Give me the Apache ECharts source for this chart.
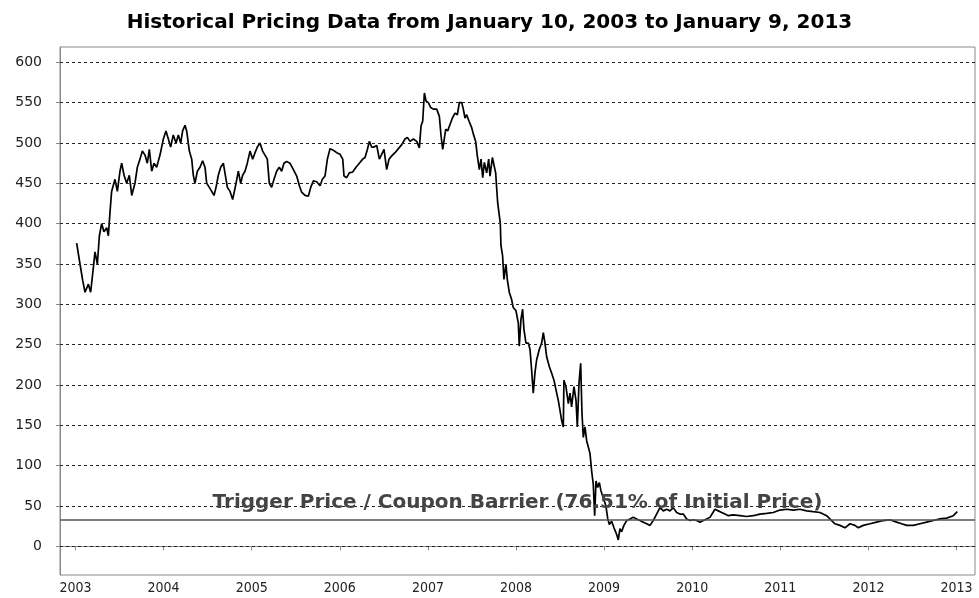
<!DOCTYPE html>
<html><head><meta charset="utf-8">
<script src="https://cdn.jsdelivr.net/npm/echarts@6/dist/echarts.min.js"></script>
<style>html,body{margin:0;padding:0;background:#fff}#c{width:979px;height:598px}</style>
</head><body><div id="c"></div>
<script>
const titleText = 'Historical Pricing Data from January 10, 2003 to January 9, 2013';
const triggerLabel = 'Trigger Price / Coupon Barrier (76.51% of Initial Price)';
const triggerLevel = 33;
const yTicks = [0, 50, 100, 150, 200, 250, 300, 350, 400, 450, 500, 550, 600];
const xTicks = [2003, 2004, 2005, 2006, 2007, 2008, 2009, 2010, 2011, 2012, 2013];
const years = [
2003.013,2003.051,2003.081,2003.108,2003.146,2003.172,2003.202,2003.221,2003.248,2003.271,
2003.297,2003.323,2003.354,2003.373,2003.392,2003.410,2003.448,2003.475,2003.505,2003.524,
2003.551,2003.581,2003.611,2003.638,2003.675,2003.702,2003.732,2003.759,2003.789,2003.815,
2003.838,2003.865,2003.891,2003.921,2003.959,2003.997,2004.027,2004.054,2004.080,2004.110,
2004.141,2004.167,2004.194,2004.216,2004.243,2004.262,2004.292,2004.319,2004.337,2004.356,
2004.383,2004.413,2004.443,2004.470,2004.489,2004.519,2004.546,2004.572,2004.595,2004.621,
2004.648,2004.678,2004.701,2004.724,2004.754,2004.784,2004.803,2004.822,2004.848,2004.875,
2004.897,2004.924,2004.950,2004.981,2005.011,2005.038,2005.064,2005.094,2005.124,2005.151,
2005.177,2005.200,2005.226,2005.253,2005.283,2005.313,2005.340,2005.366,2005.396,2005.434,
2005.473,2005.511,2005.541,2005.567,2005.605,2005.643,2005.670,2005.700,2005.738,2005.776,
2005.802,2005.832,2005.859,2005.889,2005.927,2005.965,2006.003,2006.033,2006.048,2006.078,
2006.108,2006.146,2006.184,2006.222,2006.260,2006.286,2006.313,2006.335,2006.362,2006.388,
2006.419,2006.449,2006.475,2006.502,2006.532,2006.559,2006.589,2006.627,2006.665,2006.703,
2006.740,2006.767,2006.797,2006.835,2006.873,2006.903,2006.922,2006.941,2006.960,2006.979,
2007.005,2007.032,2007.062,2007.100,2007.130,2007.149,2007.168,2007.187,2007.202,2007.225,
2007.251,2007.278,2007.308,2007.334,2007.357,2007.384,2007.402,2007.421,2007.440,2007.467,
2007.497,2007.516,2007.542,2007.561,2007.584,2007.603,2007.622,2007.641,2007.667,2007.690,
2007.705,2007.732,2007.751,2007.769,2007.792,2007.811,2007.822,2007.829,2007.848,2007.863,
2007.886,2007.901,2007.924,2007.950,2007.969,2008.000,2008.026,2008.037,2008.056,2008.075,
2008.090,2008.113,2008.140,2008.159,2008.177,2008.196,2008.215,2008.234,2008.264,2008.291,
2008.310,2008.329,2008.348,2008.378,2008.404,2008.431,2008.454,2008.480,2008.499,2008.518,
2008.537,2008.544,2008.567,2008.594,2008.613,2008.631,2008.658,2008.681,2008.696,2008.715,
2008.734,2008.749,2008.764,2008.783,2008.802,2008.821,2008.840,2008.858,2008.877,2008.893,
2008.908,2008.927,2008.946,2008.964,2008.991,2009.021,2009.040,2009.059,2009.086,2009.112,
2009.142,2009.161,2009.180,2009.199,2009.225,2009.256,2009.294,2009.331,2009.369,2009.407,
2009.445,2009.483,2009.521,2009.558,2009.596,2009.634,2009.672,2009.710,2009.748,2009.785,
2009.823,2009.861,2009.899,2009.937,2009.975,2010.012,2010.050,2010.088,2010.126,2010.164,
2010.202,2010.258,2010.296,2010.334,2010.372,2010.410,2010.466,2010.542,2010.618,2010.693,
2010.769,2010.845,2010.920,2010.996,2011.072,2011.147,2011.223,2011.299,2011.374,2011.450,
2011.526,2011.583,2011.620,2011.677,2011.734,2011.791,2011.847,2011.885,2011.942,2012.018,
2012.093,2012.169,2012.245,2012.320,2012.377,2012.434,2012.510,2012.585,2012.661,2012.737,
2012.812,2012.888,2012.964,2013.009
];
const prices = [
376,350,330,315,325,315,345,365,350,385,
400,390,395,385,415,440,455,440,465,475,
460,450,460,435,450,470,480,490,485,475,
492,465,475,470,485,505,515,505,495,510,
500,510,500,515,522,515,490,480,460,450,
465,470,478,470,450,445,440,435,445,460,
470,475,460,445,440,430,428,450,465,450,
460,465,475,490,480,488,495,500,490,485,
480,450,445,455,465,470,465,475,477,475,
467,459,447,439,435,434,445,453,452,447,
455,459,480,493,491,488,486,480,459,457,
463,464,470,475,480,482,492,502,495,495,
497,480,486,492,467,480,484,488,493,498,
505,507,502,505,502,494,521,527,562,552,
550,544,542,542,533,509,492,490,517,515,
523,531,537,535,550,550,542,531,535,527,
519,511,502,484,467,480,457,476,463,480,
459,482,480,463,426,424,400,373,360,331,
350,331,315,306,296,292,277,248,281,294,
269,252,252,244,219,190,215,231,244,252,
265,252,235,223,215,206,194,181,169,156,
148,206,198,177,190,173,198,181,148,202,
227,165,135,148,131,123,115,94,77,38,
81,73,79,69,60,50,35,27,31,23,
15,8,22,18,26,32,34,36,34,32,
30,28,26,32,40,48,44,46,44,48,
42,40,40,34,32,33,32,30,32,34,
36,46,44,42,40,38,39,38,37,38,
40,41,42,45,46,45,46,44,43,42,
38,32,28,26,23,28,26,23,26,28,
30,32,33,30,28,26,26,28,30,32,
34,35,38,43
];

const chart = echarts.init(document.getElementById('c'), null, {renderer: 'canvas'});
const axisGray = '#8a8a8a';
chart.setOption({
  animation: false,
  backgroundColor: '#fff',
  title: {
    text: titleText,
    left: 'center',
    top: 8,
    textStyle: {fontFamily: '"DejaVu Sans", sans-serif', fontWeight: 'bold', fontSize: 20, color: '#000'}
  },
  grid: {left: 60, right: 4, top: 47, bottom: 23, show: true, borderColor: axisGray, borderWidth: 1, containLabel: false, outerBoundsMode: 'none'},
  xAxis: {
    type: 'value', min: 2002.824, max: 2013.21,
    axisLine: {show: true, lineStyle: {color: axisGray}},
    axisTick: {show: true, length: 4, lineStyle: {color: axisGray}, customValues: xTicks},
    axisLabel: {customValues: xTicks, formatter: v => String(Math.round(v)), margin: 6,
      fontFamily: '"DejaVu Sans Condensed", "Liberation Sans Narrow", sans-serif', fontSize: 14, color: '#222'},
    splitLine: {show: false}
  },
  yAxis: {
    type: 'value', min: -35.5, max: 619,
    axisLine: {show: true, lineStyle: {color: axisGray}},
    axisTick: {show: true, length: 4, lineStyle: {color: axisGray}, customValues: yTicks},
    axisLabel: {customValues: yTicks, margin: 18, fontFamily: '"DejaVu Sans", sans-serif', fontSize: 14, color: '#222'},
    splitLine: {show: false}
  },
  series: [
    {
      name: 'gridlines', type: 'line', data: [], silent: true, z: 1,
      markLine: {
        symbol: 'none', silent: true, label: {show: false},
        lineStyle: {color: '#222', type: [3, 3], width: 1},
        data: yTicks.map(v => ({yAxis: v}))
      }
    },
    {
      name: 'trigger', type: 'line', data: [], silent: true, z: 2,
      markLine: {
        symbol: 'none', silent: true,
        lineStyle: {color: '#555', type: 'solid', width: 1.5},
        label: {show: true, formatter: triggerLabel, position: 'insideMiddleTop', distance: 7,
          fontFamily: '"DejaVu Sans", sans-serif', fontWeight: 'bold', fontSize: 20, color: '#444'},
        data: [{yAxis: triggerLevel}]
      }
    },
    {
      name: 'price', type: 'line', z: 3,
      data: years.map((y, i) => [y, prices[i]]),
      showSymbol: false, symbol: 'none',
      lineStyle: {color: '#000', width: 1.7}
    }
  ]
});
</script>
</body></html>
